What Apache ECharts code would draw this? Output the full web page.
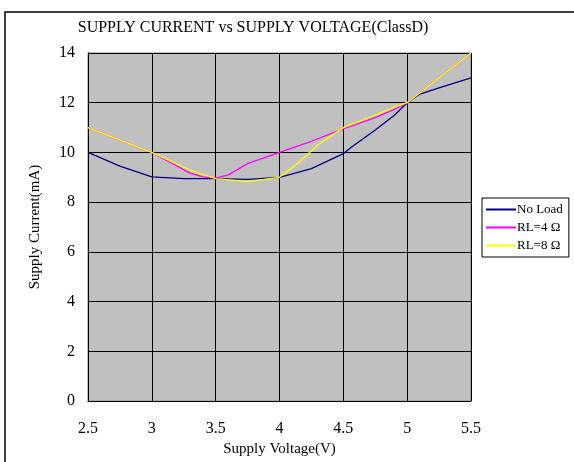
<!DOCTYPE html>
<html><head><meta charset="utf-8">
<script src="https://cdn.jsdelivr.net/npm/echarts@6/dist/echarts.min.js"></script>
<style>html,body{margin:0;padding:0;background:#fff}#c{width:574px;height:462px}</style>
</head><body><div id="c"></div>
<script>
const titleText = 'SUPPLY CURRENT vs SUPPLY VOLTAGE(ClassD)';
const xName = 'Supply Voltage(V)';
const yName = 'Supply Current(mA)';
const seriesNames = ['No Load', 'RL=4 Ω', 'RL=8 Ω'];
const noLoad = [[2.5,10.0],[2.75,9.45],[3.0,9.02],[3.25,8.95],[3.5,8.95],[3.75,8.92],[4.0,9.0],[4.25,9.35],[4.5,9.95],[4.56,10.2],[4.75,10.9],[4.9,11.5],[5.0,12.0],[5.1,12.35],[5.25,12.6],[5.5,13.0]];
const rl4 = [[2.5,11.0],[3.0,10.0],[3.3,9.17],[3.4,9.02],[3.5,8.97],[3.6,9.1],[3.75,9.55],[4.0,10.0],[4.25,10.45],[4.5,10.95],[4.75,11.4],[4.9,11.73],[5.0,12.0],[5.5,14.0]];
const rl8 = [[2.5,11.0],[3.0,10.0],[3.3,9.29],[3.5,8.95],[3.75,8.83],[4.0,9.0],[4.15,9.6],[4.3,10.3],[4.5,11.0],[4.75,11.5],[4.9,11.82],[5.0,12.0],[5.5,14.0]];
const colors = ['#000080', '#FF00FF', '#FFFF00'];
const font = '"Liberation Serif", "DejaVu Serif", serif';

const chart = echarts.init(document.getElementById('c'));
chart.setOption({
  animation: false,
  textStyle: {fontFamily: font, color: '#000'},
  title: {text: titleText, left: 248, top: 15, textAlign: 'center',
    textStyle: {fontFamily: font, fontSize: 16, fontWeight: 'normal', color: '#000'}},
  graphic: [{type: 'rect', shape: {x: 5, y: 12, width: 600, height: 500},
    style: {fill: 'none', stroke: '#000', lineWidth: 1.5}, z: -1}],
  grid: {left: 88, right: 103, top: 53, bottom: 58, show: true,
    backgroundColor: '#C0C0C0', borderColor: '#808080', borderWidth: 1},
  legend: {orient: 'vertical', left: 482, top: 198, width: 90,
    data: seriesNames, backgroundColor: '#fff', borderColor: '#000', borderWidth: 1,
    padding: [5, 6, 5, 4], itemGap: 5, itemWidth: 30, itemHeight: 2, icon: 'rect',
    textStyle: {fontFamily: font, fontSize: 13, color: '#000', padding: [0,0,0,-4]}},
  xAxis: {type: 'value', min: 2.5, max: 5.5, interval: 0.5,
    name: xName, nameLocation: 'middle', nameGap: 40,
    nameTextStyle: {fontFamily: font, fontSize: 15, color: '#000'},
    axisLine: {show: true, lineStyle: {color: '#000'}},
    axisTick: {show: false},
    axisLabel: {fontFamily: font, fontSize: 16, color: '#000', margin: 20},
    splitLine: {show: true, lineStyle: {color: '#000', width: 1}}},
  yAxis: {type: 'value', min: 0, max: 14, interval: 2,
    name: yName, nameLocation: 'middle', nameGap: 45,
    nameTextStyle: {fontFamily: font, fontSize: 15, color: '#000'},
    axisLine: {show: true, lineStyle: {color: '#000'}},
    axisTick: {show: false},
    axisLabel: {fontFamily: font, fontSize: 16, color: '#000', margin: 13},
    splitLine: {show: true, lineStyle: {color: '#000', width: 1}}},
  series: [
    {name: seriesNames[0], type: 'line', data: noLoad, symbol: 'none', lineStyle: {color: colors[0], width: 1.3}, itemStyle: {color: colors[0]}, z: 3},
    {name: seriesNames[1], type: 'line', data: rl4, symbol: 'none', lineStyle: {color: colors[1], width: 1.3}, itemStyle: {color: colors[1]}, z: 4},
    {name: seriesNames[2], type: 'line', data: rl8, symbol: 'none', lineStyle: {color: colors[2], width: 1.3}, itemStyle: {color: colors[2]}, z: 5}
  ]
});
</script></body></html>
